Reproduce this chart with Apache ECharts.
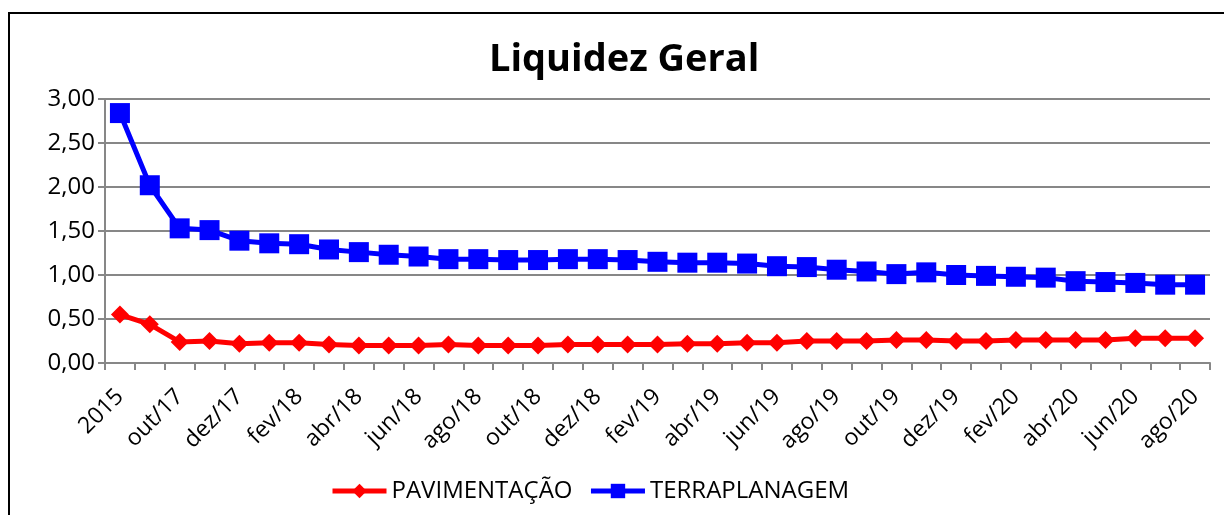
<!DOCTYPE html>
<html>
<head>
<meta charset="utf-8">
<script src="https://cdn.jsdelivr.net/npm/echarts@6/dist/echarts.min.js"></script>
<style>
  html, body { margin: 0; padding: 0; background: #fff; }
  #chart { width: 1224px; height: 515px; }
</style>
</head>
<body>
<div id="chart"></div>
<script>
  // categorias do eixo x
  const meses = [
    '2015', '2016',
    'out/17', 'nov/17', 'dez/17',
    'jan/18', 'fev/18', 'mar/18', 'abr/18', 'mai/18', 'jun/18',
    'jul/18', 'ago/18', 'set/18', 'out/18', 'nov/18', 'dez/18',
    'jan/19', 'fev/19', 'mar/19', 'abr/19', 'mai/19', 'jun/19',
    'jul/19', 'ago/19', 'set/19', 'out/19', 'nov/19', 'dez/19',
    'jan/20', 'fev/20', 'mar/20', 'abr/20', 'mai/20', 'jun/20',
    'jul/20', 'ago/20'
  ];
  const pavimentacao = [
    0.55, 0.44, 0.24, 0.25, 0.22, 0.23, 0.23, 0.21, 0.20, 0.20,
    0.20, 0.21, 0.20, 0.20, 0.20, 0.21, 0.21, 0.21, 0.21, 0.22,
    0.22, 0.23, 0.23, 0.25, 0.25, 0.25, 0.26, 0.26, 0.25, 0.25,
    0.26, 0.26, 0.26, 0.26, 0.28, 0.28, 0.28
  ];
  const terraplanagem = [
    2.84, 2.02, 1.53, 1.51, 1.39, 1.36, 1.35, 1.29, 1.26, 1.23,
    1.21, 1.18, 1.18, 1.17, 1.17, 1.18, 1.18, 1.17, 1.15, 1.14,
    1.14, 1.13, 1.10, 1.09, 1.06, 1.04, 1.01, 1.03, 1.00, 0.99,
    0.98, 0.97, 0.93, 0.92, 0.91, 0.89, 0.89
  ];

  const fonte = '"Open Sans", sans-serif';
  const cinza = '#878787';

  const option = {
    animation: false,
    title: {
      text: 'Liquidez Geral',
      left: 484,
      top: 36,
      textStyle: { fontFamily: fonte, fontSize: 38, fontWeight: 'bold', color: '#000' }
    },
    graphic: [{
      type: 'rect',
      shape: { x: 9, y: 13, width: 1400, height: 700 },
      style: { fill: 'none', stroke: '#000', lineWidth: 2 }
    }],
    grid: { left: 105, right: 14, top: 99, bottom: 152 },
    legend: {
      data: ['PAVIMENTAÇÃO', 'TERRAPLANAGEM'],
      left: 325,
      top: 474,
      itemWidth: 54,
      itemHeight: 18,
      itemGap: 16,
      lineStyle: { width: 5 },
      textStyle: { fontFamily: fonte, fontSize: 24, color: '#000' }
    },
    xAxis: {
      type: 'category',
      data: meses,
      boundaryGap: true,
      axisLine: { lineStyle: { color: cinza, width: 2 } },
      axisTick: { show: true, length: 7, interval: 0, lineStyle: { color: cinza, width: 2 } },
      axisLabel: {
        interval: 1,
        rotate: 45,
        margin: 30,
        fontFamily: fonte,
        fontSize: 23,
        color: '#000'
      }
    },
    yAxis: {
      type: 'value',
      min: 0,
      max: 3,
      interval: 0.5,
      axisLine: { show: true, lineStyle: { color: cinza, width: 2 } },
      axisTick: { show: true, length: 7, lineStyle: { color: cinza, width: 2 } },
      splitLine: { lineStyle: { color: cinza, width: 2 } },
      axisLabel: {
        margin: 10,
        fontFamily: fonte,
        fontSize: 24,
        color: '#000',
        formatter: v => v.toFixed(2).replace('.', ',')
      }
    },
    series: [
      {
        name: 'PAVIMENTAÇÃO',
        type: 'line',
        data: pavimentacao,
        color: '#ff0000',
        symbol: 'diamond',
        symbolSize: [18, 18],
        showAllSymbol: true,
        lineStyle: { width: 5, color: '#ff0000' },
        itemStyle: { color: '#ff0000' }
      },
      {
        name: 'TERRAPLANAGEM',
        type: 'line',
        data: terraplanagem,
        color: '#0000ff',
        symbol: 'rect',
        symbolSize: 20,
        showAllSymbol: true,
        lineStyle: { width: 5, color: '#0000ff' },
        itemStyle: { color: '#0000ff' }
      }
    ]
  };

  const chartObj = echarts.init(document.getElementById('chart'));
  chartObj.setOption(option);
</script>
</body>
</html>
